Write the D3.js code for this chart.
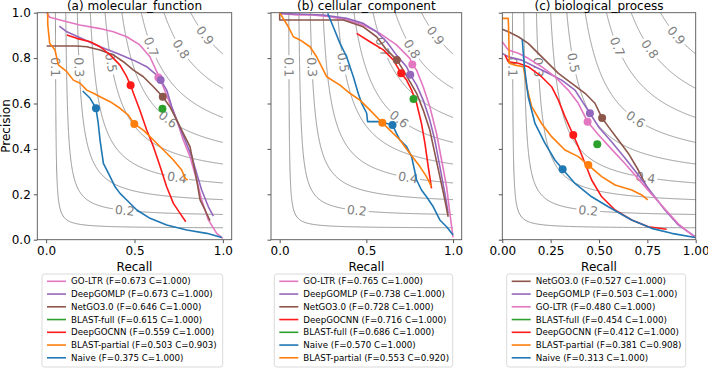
<!DOCTYPE html>
<html><head><meta charset="utf-8">
<script src="https://cdn.jsdelivr.net/npm/d3@7"></script>
<style>
body{margin:0;background:#fff;}
svg{display:block;font-family:"DejaVu Sans",sans-serif;}
</style></head>
<body>
<svg id="chart" width="708" height="368"></svg>
<script>
// ---------- DATA ----------
const panelTitles = ["(a) molecular_function", "(b) cellular_component", "(c) biological_process"];
const xTicksAB = [0, 0.5, 1.0];
const xTicksC = [0, 0.25, 0.5, 0.75, 1.0];
const yTicks = [0, 0.2, 0.4, 0.6, 0.8, 1.0];
const isoLevels = [0.1, 0.2, 0.3, 0.4, 0.5, 0.6, 0.7, 0.8, 0.9];
const isoLabelP = [0.76, 0.129, 0.76, 0.274, 0.78, 0.531, 0.85, 0.84, 0.9];

const methodColor = {
  "GO-LTR": "#e377c2", "DeepGOMLP": "#9467bd", "NetGO3.0": "#8c564b",
  "BLAST-full": "#2ca02c", "DeepGOCNN": "#ff1a1a", "BLAST-partial": "#ff7f0e", "Naive": "#1f77b4"
};

// Panel (a) molecular_function
const mfOrder = ["GO-LTR", "DeepGOMLP", "NetGO3.0", "BLAST-full", "DeepGOCNN", "BLAST-partial", "Naive"];
const mfLegend = ["GO-LTR (F=0.673 C=1.000)", "DeepGOMLP (F=0.673 C=1.000)", "NetGO3.0 (F=0.646 C=1.000)",
  "BLAST-full (F=0.615 C=1.000)", "DeepGOCNN (F=0.559 C=1.000)", "BLAST-partial (F=0.503 C=0.903)", "Naive (F=0.375 C=1.000)"];
const mf_GOLTR = [[0.003,1.0],[0.02,0.98],[0.079,0.968],[0.19,0.946],[0.305,0.93],[0.38,0.916],[0.456,0.894],[0.53,0.858],[0.587,0.806],[0.635,0.725],[0.663,0.674],[0.7,0.6],[0.739,0.527],[0.776,0.439],[0.814,0.366],[0.852,0.263],[0.88,0.175],[0.918,0.087],[0.965,0.028],[1.0,0.006]];
const mf_DeepGOMLP = [[0.075,0.941],[0.117,0.916],[0.211,0.883],[0.305,0.85],[0.4,0.821],[0.494,0.791],[0.569,0.762],[0.626,0.725],[0.648,0.703],[0.682,0.659],[0.711,0.586],[0.739,0.527],[0.786,0.439],[0.824,0.366],[0.852,0.292],[0.88,0.219],[0.918,0.145],[0.946,0.104]];
const mf_NetGO = [[0.003,0.853],[0.173,0.853],[0.23,0.85],[0.305,0.836],[0.38,0.814],[0.437,0.784],[0.494,0.747],[0.55,0.718],[0.607,0.674],[0.66,0.63],[0.7,0.586],[0.739,0.527],[0.776,0.468],[0.814,0.41],[0.833,0.336],[0.852,0.263],[0.871,0.175],[0.899,0.131],[0.927,0.084]];
const mf_BLASTfull = [];
const mf_DeepGOCNN = [[0.117,0.902],[0.173,0.887],[0.249,0.872],[0.305,0.85],[0.362,0.814],[0.418,0.769],[0.456,0.718],[0.478,0.68],[0.494,0.645],[0.53,0.571],[0.569,0.483],[0.607,0.41],[0.645,0.322],[0.682,0.233],[0.72,0.16],[0.758,0.116],[0.79,0.079]];
const mf_BLASTpartial = [[0.009,1.0],[0.009,0.95],[0.02,0.865],[0.05,0.836],[0.069,0.77],[0.117,0.74],[0.154,0.703],[0.192,0.689],[0.23,0.659],[0.268,0.645],[0.305,0.63],[0.362,0.608],[0.418,0.579],[0.465,0.549],[0.499,0.51],[0.55,0.483],[0.607,0.439],[0.664,0.395],[0.72,0.351],[0.767,0.307],[0.786,0.27],[0.801,0.263]];
const mf_Naive = [[0.207,0.655],[0.249,0.623],[0.282,0.579],[0.295,0.512],[0.305,0.439],[0.324,0.336],[0.362,0.278],[0.39,0.233],[0.418,0.204],[0.456,0.175],[0.513,0.131],[0.588,0.094],[0.682,0.065],[0.796,0.043],[0.909,0.028],[0.994,0.01]];
const mfDots = [[0.635,0.715],[0.648,0.703],[0.66,0.63],[0.658,0.577],[0.478,0.68],[0.499,0.51],[0.282,0.579]];

// Panel (b) cellular_component
const ccOrder = ["GO-LTR", "DeepGOMLP", "NetGO3.0", "DeepGOCNN", "BLAST-full", "Naive", "BLAST-partial"];
const ccLegend = ["GO-LTR (F=0.765 C=1.000)", "DeepGOMLP (F=0.738 C=1.000)", "NetGO3.0 (F=0.728 C=1.000)",
  "DeepGOCNN (F=0.716 C=1.000)", "BLAST-full (F=0.686 C=1.000)", "Naive (F=0.570 C=1.000)", "BLAST-partial (F=0.553 C=0.920)"];
const cc_GOLTR = [[0,0.997],[0.1,0.99],[0.19,0.99],[0.29,0.982],[0.386,0.968],[0.482,0.946],[0.578,0.909],[0.674,0.858],[0.751,0.799],[0.765,0.772],[0.79,0.747],[0.828,0.674],[0.866,0.586],[0.905,0.468],[0.934,0.351],[0.963,0.233],[0.982,0.116],[1.0,0.01]];
const cc_DeepGOMLP = [[0,0.997],[0.098,0.994],[0.25,0.99],[0.386,0.975],[0.482,0.953],[0.559,0.916],[0.617,0.872],[0.674,0.813],[0.732,0.762],[0.753,0.727],[0.79,0.681],[0.828,0.615],[0.866,0.527],[0.895,0.439],[0.924,0.322],[0.953,0.204],[0.972,0.116]];
const cc_NetGO = [[0,0.997],[0,0.968],[0.2,0.968],[0.367,0.968],[0.482,0.938],[0.559,0.894],[0.617,0.836],[0.676,0.792],[0.713,0.747],[0.751,0.696],[0.79,0.645],[0.828,0.571],[0.866,0.483],[0.895,0.38],[0.924,0.278],[0.953,0.175],[0.972,0.101]];
const cc_DeepGOCNN = [[0.444,0.909],[0.521,0.872],[0.598,0.836],[0.655,0.792],[0.701,0.733],[0.732,0.703],[0.761,0.659],[0.79,0.601],[0.818,0.512],[0.838,0.424],[0.857,0.322],[0.876,0.226]];
const cc_BLASTfull = [];
const cc_Naive = [[0.277,0.997],[0.309,0.938],[0.348,0.865],[0.386,0.806],[0.425,0.718],[0.453,0.645],[0.473,0.601],[0.502,0.557],[0.507,0.52],[0.58,0.52],[0.651,0.505],[0.674,0.468],[0.694,0.439],[0.732,0.41],[0.761,0.366],[0.79,0.263],[0.818,0.219],[0.847,0.189],[0.886,0.145],[0.924,0.087],[0.963,0.057],[1.0,0.021]];
const cc_BLASTpartial = [[0,1.0],[0.05,0.938],[0.079,0.894],[0.117,0.88],[0.175,0.85],[0.213,0.806],[0.271,0.718],[0.348,0.681],[0.405,0.645],[0.463,0.615],[0.521,0.571],[0.592,0.515],[0.636,0.483],[0.694,0.439],[0.751,0.38],[0.809,0.322],[0.847,0.278],[0.876,0.233]];
const ccDots = [[0.765,0.772],[0.753,0.727],[0.676,0.792],[0.701,0.733],[0.772,0.62],[0.651,0.505],[0.592,0.515]];

// Panel (c) biological_process
const bpOrder = ["NetGO3.0", "DeepGOMLP", "GO-LTR", "BLAST-full", "DeepGOCNN", "BLAST-partial", "Naive"];
const bpLegend = ["NetGO3.0 (F=0.527 C=1.000)", "DeepGOMLP (F=0.503 C=1.000)", "GO-LTR (F=0.480 C=1.000)",
  "BLAST-full (F=0.454 C=1.000)", "DeepGOCNN (F=0.412 C=1.000)", "BLAST-partial (F=0.381 C=0.908)", "Naive (F=0.313 C=1.000)"];
const bp_NetGO = [[0,0.927],[0.031,0.916],[0.083,0.894],[0.134,0.865],[0.186,0.821],[0.238,0.777],[0.29,0.733],[0.359,0.689],[0.428,0.645],[0.479,0.601],[0.516,0.536],[0.548,0.498],[0.6,0.439],[0.652,0.38],[0.703,0.307],[0.755,0.219]];
const bp_DeepGOMLP = [[0,0.821],[0.031,0.806],[0.1,0.791],[0.169,0.762],[0.238,0.733],[0.307,0.703],[0.376,0.659],[0.453,0.557],[0.497,0.498],[0.566,0.43],[0.634,0.36],[0.703,0.285],[0.772,0.207],[0.841,0.131],[0.91,0.065],[0.997,0.013]];
const bp_GOLTR = [[0,0.872],[0.031,0.836],[0.083,0.821],[0.134,0.799],[0.203,0.762],[0.272,0.718],[0.341,0.659],[0.393,0.601],[0.441,0.52],[0.497,0.462],[0.566,0.398],[0.634,0.336],[0.703,0.268],[0.772,0.2],[0.841,0.135],[0.91,0.07],[0.997,0.01]];
const bp_BLASTfull = [];
const bp_DeepGOCNN = [[0.014,0.813],[0.031,0.784],[0.083,0.777],[0.134,0.762],[0.203,0.718],[0.255,0.674],[0.29,0.615],[0.324,0.542],[0.367,0.461],[0.393,0.41],[0.428,0.336],[0.462,0.263],[0.514,0.189],[0.583,0.131],[0.669,0.087],[0.755,0.057],[0.85,0.046]];
const bp_BLASTpartial = [[0,0.975],[0.031,0.975],[0.034,0.88],[0.036,0.777],[0.066,0.769],[0.109,0.762],[0.126,0.674],[0.152,0.586],[0.203,0.512],[0.255,0.454],[0.324,0.395],[0.393,0.366],[0.445,0.329],[0.514,0.278],[0.583,0.241],[0.669,0.219],[0.721,0.197],[0.752,0.175]];
const bp_Naive = [[0.103,0.883],[0.114,0.762],[0.134,0.63],[0.169,0.512],[0.221,0.424],[0.272,0.351],[0.312,0.31],[0.376,0.248],[0.462,0.189],[0.548,0.145],[0.669,0.087],[0.772,0.05],[0.876,0.028],[0.997,0.01]];
const bpDots = [[0.516,0.536],[0.453,0.557],[0.441,0.52],[0.491,0.42],[0.367,0.461],[0.445,0.329],[0.312,0.31]];

// ---------- LAYOUT ----------
const panels = [
  {title: panelTitles[0], left: 37.3, right: 231.7, xdom: [-0.05, 1.05], ticks: xTicksAB, fmt: d3.format(".1f"),
   order: mfOrder, legend: mfLegend, curves: [mf_GOLTR, mf_DeepGOMLP, mf_NetGO, mf_BLASTfull, mf_DeepGOCNN, mf_BLASTpartial, mf_Naive], dots: mfDots,
   legX: 42, legW: 180.7, yLabels: true},
  {title: panelTitles[1], left: 271, right: 461.7, xdom: [-0.05, 1.05], ticks: xTicksAB, fmt: d3.format(".1f"),
   order: ccOrder, legend: ccLegend, curves: [cc_GOLTR, cc_DeepGOMLP, cc_NetGO, cc_DeepGOCNN, cc_BLASTfull, cc_Naive, cc_BLASTpartial], dots: ccDots,
   legX: 274.3, legW: 178.4, yLabels: false},
  {title: panelTitles[2], left: 502.3, right: 695.7, xdom: [0, 1], ticks: xTicksC, fmt: d3.format(".2f"),
   order: bpOrder, legend: bpLegend, curves: [bp_NetGO, bp_DeepGOMLP, bp_GOLTR, bp_BLASTfull, bp_DeepGOCNN, bp_BLASTpartial, bp_Naive], dots: bpDots,
   legX: 506.7, legW: 179, yLabels: false}
];
const axTop = 12.7, axBottom = 239.7;
const svg = d3.select("#chart");
const defs = svg.append("defs");

function isoCurve(F) {
  const pts = [];
  for (let i = 0; i <= 200; i++) {
    const P = 1 - (1 - F) * i / 200;
    pts.push([F * P / (2 * P - F), P]);
  }
  for (let i = 1; i <= 200; i++) {
    const R = F + (1 - F) * i / 200;
    pts.push([R, F * R / (2 * R - F)]);
  }
  return pts;
}

panels.forEach((p, pi) => {
  const x = d3.scaleLinear().domain(p.xdom).range([p.left, p.right]);
  const y = d3.scaleLinear().domain([0, 1]).range([axBottom, axTop]);
  const g = svg.append("g");
  const line = d3.line().x(d => x(d[0])).y(d => y(d[1]));

  const sx = x(1) - x(0), sy = y(0) - y(1);
  const labels = isoLevels.map((F, i) => {
    const P = isoLabelP[i];
    const R = F * P / (2 * P - F);
    const slope = F * F / Math.pow(2 * R - F, 2);
    const ang = Math.atan2(slope * sy, sx) * 180 / Math.PI;
    return {F, cx: x(R), cy: y(P), ang};
  });
  const mask = defs.append("mask").attr("id", "m" + pi).attr("maskUnits", "userSpaceOnUse")
    .attr("x", 0).attr("y", 0).attr("width", 708).attr("height", 368);
  mask.append("rect").attr("x", 0).attr("y", 0).attr("width", 708).attr("height", 368).attr("fill", "#fff");
  labels.forEach(l => {
    mask.append("rect").attr("x", -12).attr("y", -6).attr("width", 24).attr("height", 12).attr("fill", "#000")
      .attr("transform", `translate(${l.cx},${l.cy}) rotate(${l.ang})`);
  });
  const cg = g.append("g").attr("mask", `url(#m${pi})`);
  isoLevels.forEach(F => {
    cg.append("path").attr("d", line(isoCurve(F))).attr("fill", "none").attr("stroke", "#7f7f7f").attr("stroke-width", 0.8);
  });
  labels.forEach(l => {
    g.append("text").attr("transform", `translate(${l.cx},${l.cy}) rotate(${l.ang})`)
      .attr("text-anchor", "middle").attr("dy", "0.36em").attr("font-size", 12.5).attr("fill", "#7f7f7f")
      .text(d3.format(".1f")(l.F));
  });

  p.curves.forEach((c, ci) => {
    if (c.length) g.append("path").attr("d", line(c)).attr("fill", "none")
      .attr("stroke", methodColor[p.order[ci]]).attr("stroke-width", 1.6).attr("stroke-linejoin", "round");
  });
  p.dots.forEach((d, ci) => {
    g.append("circle").attr("cx", x(d[0])).attr("cy", y(d[1])).attr("r", 4).attr("fill", methodColor[p.order[ci]]);
  });

  g.append("rect").attr("x", p.left).attr("y", axTop).attr("width", p.right - p.left).attr("height", axBottom - axTop)
    .attr("fill", "none").attr("stroke", "#555").attr("stroke-width", 0.9);

  const xa = g.append("g").attr("transform", `translate(0,${axBottom})`)
    .call(d3.axisBottom(x).tickValues(p.ticks).tickFormat(p.fmt).tickSize(3.5).tickPadding(3));
  xa.select(".domain").remove();
  xa.selectAll("line").attr("stroke", "#555");
  xa.selectAll("text").attr("font-size", 12).attr("fill", "#000").attr("font-family", "DejaVu Sans");
  const ya = g.append("g").attr("transform", `translate(${p.left},0)`)
    .call(d3.axisLeft(y).tickValues(yTicks).tickFormat(p.yLabels ? d3.format(".1f") : "").tickSize(3.5).tickPadding(3));
  ya.select(".domain").remove();
  ya.selectAll("line").attr("stroke", "#555");
  ya.selectAll("text").attr("font-size", 12).attr("fill", "#000").attr("font-family", "DejaVu Sans");

  const cx = (p.left + p.right) / 2;
  g.append("text").attr("x", cx).attr("y", 9.5).attr("text-anchor", "middle").attr("font-size", 12).text(p.title);
  g.append("text").attr("x", cx).attr("y", 270.5).attr("text-anchor", "middle").attr("font-size", 12).text("Recall");

  const lg = g.append("g");
  lg.append("rect").attr("x", p.legX).attr("y", 274).attr("width", p.legW).attr("height", 93)
    .attr("rx", 2.5).attr("fill", "#fff").attr("fill-opacity", 0.8).attr("stroke", "#d0d0d0").attr("stroke-width", 0.8);
  p.legend.forEach((t, i) => {
    const yy = 281.3 + i * 12.75;
    lg.append("line").attr("x1", p.legX + 5).attr("x2", p.legX + 24).attr("y1", yy).attr("y2", yy)
      .attr("stroke", methodColor[p.order[i]]).attr("stroke-width", 1.6);
    lg.append("text").attr("x", p.legX + 29).attr("y", yy).attr("dy", "0.35em").attr("font-size", 8.7).text(t);
  });
});

svg.append("text").attr("transform", "translate(10,126) rotate(-90)").attr("text-anchor", "middle")
  .attr("font-size", 12).text("Precision");
</script>
</body></html>
